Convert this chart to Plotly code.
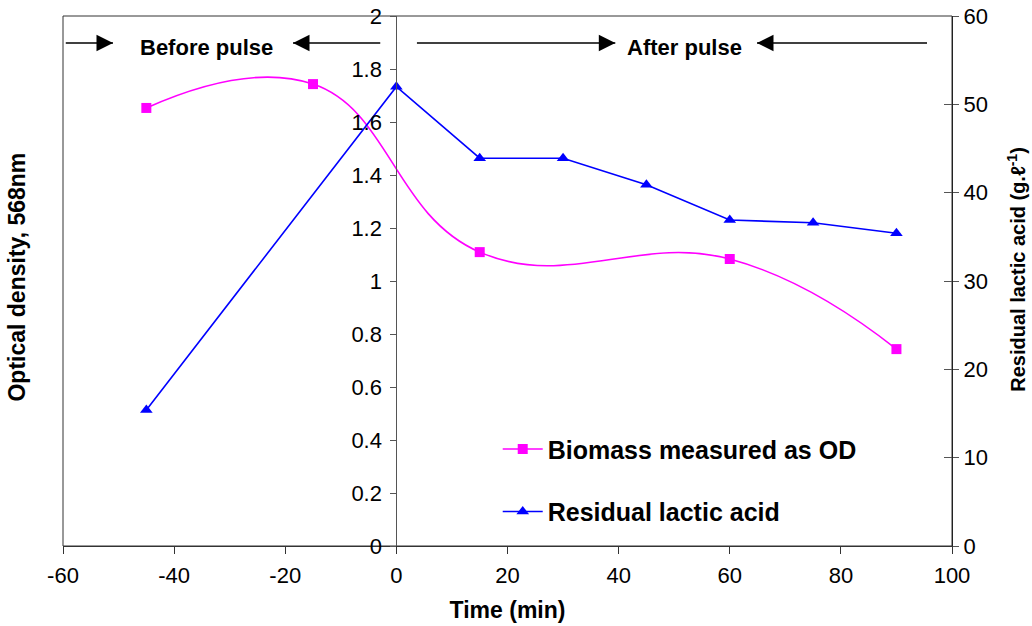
import plotly.graph_objects as go

# Data
time_od = [-45, -15, 15, 60, 90]
od_values = [1.653, 1.743, 1.109, 1.083, 0.743]

time_la = [-45, 0, 15, 30, 45, 60, 75, 90]
la_values = [15.4, 52.0, 43.9, 43.9, 40.9, 36.9, 36.6, 35.4]

x_ticks = [-60, -40, -20, 0, 20, 40, 60, 80, 100]
x_ticktext = ["-60", "-40", "-20", "0", "20", "40", "60", "80", "100"]

FONT = "Liberation Sans, Arial, Helvetica, sans-serif"

fig = go.Figure()

fig.add_trace(go.Scatter(
    x=time_od, y=od_values, name="<b>Biomass measured as OD</b>",
    mode="lines+markers", line=dict(color="#FF00FF", width=1.6, shape="spline", smoothing=1.25),
    marker=dict(symbol="square", size=10, color="#FF00FF"),
    yaxis="y", legendgroup="a"))

fig.add_trace(go.Scatter(
    x=time_la, y=la_values, name="<b>Residual lactic acid</b>",
    mode="lines+markers", line=dict(color="#0000FF", width=1.6),
    marker=dict(symbol="triangle-up", size=11, color="#0000FF"),
    yaxis="y2", legendgroup="b"))

tickfont = dict(family=FONT, size=22, color="black")

fig.update_layout(
    width=1032, height=626,
    margin=dict(l=63, r=80, t=16, b=80, autoexpand=False),
    paper_bgcolor="white", plot_bgcolor="white",
    font=dict(family=FONT, color="black"),
    xaxis=dict(range=[-60, 100], tickvals=x_ticks, ticktext=x_ticktext, ticks="outside", ticklen=7,
               tickcolor="#333", showline=True, linecolor="#333", linewidth=1,
               showgrid=False, zeroline=False, tickfont=tickfont, ticklabelstandoff=3,
               automargin=False,
               title=dict(text="<b>Time (min)</b>", font=dict(family=FONT, size=23), standoff=14)),
    yaxis=dict(range=[0, 2], dtick=0.2, anchor="free", position=0.375, side="left",
               ticks="outside", ticklen=6, tickcolor="#555", showline=True,
               linecolor="#555", linewidth=1, showgrid=False, zeroline=False,
               tickfont=tickfont, automargin=False, ticklabelstandoff=4),
    yaxis2=dict(range=[0, 60], dtick=10, overlaying="y", side="right", anchor="x",
                ticks="outside", ticklen=6, tickcolor="#555", showline=True,
                linecolor="#222", linewidth=1, showgrid=False, zeroline=False,
                tickfont=tickfont, automargin=False),
    yaxis3=dict(range=[0, 60], dtick=10, overlaying="y", side="right", anchor="x",
                ticks="inside", ticklen=8, tickcolor="#555", showticklabels=False,
                showline=False, showgrid=False, zeroline=False, automargin=False),
    legend=dict(x=0.489, y=0.226, xanchor="left", yanchor="top",
                font=dict(family=FONT, size=25, color="black"),
                bgcolor="rgba(0,0,0,0)", tracegroupgap=27, itemwidth=40,
                traceorder="grouped"),
    showlegend=True,
)

# dummy invisible trace on yaxis3 so the axis renders
fig.add_trace(go.Scatter(x=[None], y=[None], yaxis="y3", showlegend=False, hoverinfo="skip"))

# plot frame (left and top border)
fig.add_shape(type="rect", xref="paper", yref="paper", x0=0, x1=1, y0=0, y1=1,
              line=dict(color="#333", width=1), layer="below")

# Axis titles as annotations
fig.add_annotation(xref="paper", yref="paper", x=-0.052, y=0.508, text="<b>Optical density, 568nm</b>",
                   textangle=-90, showarrow=False, font=dict(family=FONT, size=23),
                   xanchor="center", yanchor="middle")
fig.add_annotation(xref="paper", yref="paper", x=1.073, y=0.523,
                   text="<b>Residual lactic acid (g.ℓ<sup>-1</sup>)</b>",
                   textangle=-90, showarrow=False, font=dict(family=FONT, size=20),
                   xanchor="center", yanchor="middle")

# Period labels
label_y = 1.88
arrow_y = 1.898
fig.add_annotation(x=-34.2, y=label_y, text="<b>Before pulse</b>", showarrow=False,
                   font=dict(family=FONT, size=22), xref="x", yref="y")
fig.add_annotation(x=51.8, y=label_y, text="<b>After pulse</b>", showarrow=False,
                   font=dict(family=FONT, size=22), xref="x", yref="y")

# arrows: (head, tail) in data x
arrows = [(-51.0, -59.5), (-18.6, -2.9), (39.4, 3.7), (64.9, 95.5)]
for head, tail in arrows:
    fig.add_shape(type="line", xref="x", yref="y", x0=tail, x1=head, y0=arrow_y, y1=arrow_y,
                  line=dict(color="black", width=1.5))
    direction = 1 if head > tail else -1
    fig.add_annotation(x=head, y=arrow_y, ax=-direction * 16, ay=0, xref="x", yref="y",
                       axref="pixel", ayref="pixel", text="", showarrow=True,
                       arrowhead=2, arrowsize=2.2, arrowwidth=1.5, arrowcolor="black")

fig.write_html("out.html")
